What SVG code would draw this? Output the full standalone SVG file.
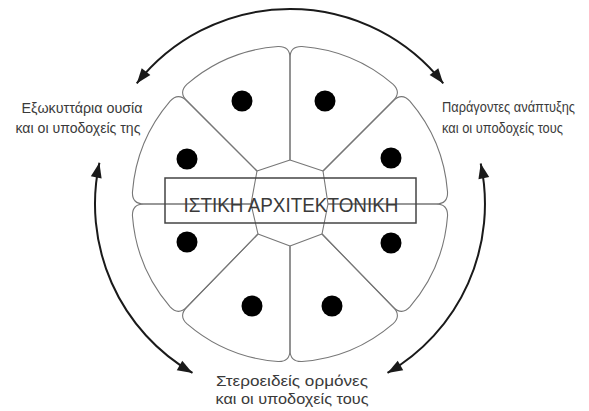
<svg xmlns="http://www.w3.org/2000/svg" width="589" height="411" viewBox="0 0 589 411">
<style>
.cell{fill:none;stroke:#777;stroke-width:1.1;stroke-linejoin:round}
.nuc{fill:#000}
.arc{fill:none;stroke:#1a1a1a;stroke-width:2;marker-start:url(#ah);marker-end:url(#ah)}
.lbl{font-family:"Liberation Sans",Arial,sans-serif;font-size:14px;fill:#3a3a3a}
.big{font-family:"Liberation Sans",Arial,sans-serif;font-size:21px;fill:#3a3a3a}
</style>
<defs>
<marker id="ah" viewBox="-16 -7 17 14" refX="0" refY="0" markerWidth="17" markerHeight="14" markerUnits="userSpaceOnUse" orient="auto-start-reverse">
<path d="M0,0 L-15,-5.5 L-15,5.5 Z" fill="#1a1a1a"/>
</marker>
</defs>
<rect width="589" height="411" fill="#fff"/>
<g id="tissue">
<g id="cell0"><path class="cell" d="M328,204 L436,204 Q448,204 447.54,215.98 A158 158 0 0 1 409.88,306.92 Q401.72,315.72 393.24,307.24 L322,234 Z"/><circle class="nuc" cx="391" cy="243" r="10.5"/></g>
<g id="cell1"><path class="cell" d="M322,234 L393.24,307.24 Q401.72,315.72 392.92,323.88 A158 158 0 0 1 301.98,361.54 Q290,362 290,350 L290,246 Z"/><circle class="nuc" cx="332" cy="306" r="10.5"/></g>
<g id="cell2"><path class="cell" d="M290,246 L290,350 Q290,362 278.02,361.54 A158 158 0 0 1 187.08,323.88 Q178.28,315.72 186.76,307.24 L258,234 Z"/><circle class="nuc" cx="252" cy="306" r="10.5"/></g>
<g id="cell3"><path class="cell" d="M258,234 L186.76,307.24 Q178.28,315.72 170.12,306.92 A158 158 0 0 1 132.46,215.98 Q132,204 144,204 L251,204 Z"/><circle class="nuc" cx="187" cy="242" r="10.5"/></g>
<g id="cell4"><path class="cell" d="M251,204 L144,204 Q132,204 132.46,192.02 A158 158 0 0 1 170.12,101.08 Q178.28,92.28 186.76,100.76 L257,171 Z"/><circle class="nuc" cx="187" cy="159" r="10.5"/></g>
<g id="cell5"><path class="cell" d="M257,171 L186.76,100.76 Q178.28,92.28 187.08,84.12 A158 158 0 0 1 278.02,46.46 Q290,46 290,58 L290,160 Z"/><circle class="nuc" cx="242" cy="101" r="10.5"/></g>
<g id="cell6"><path class="cell" d="M290,160 L290,58 Q290,46 301.98,46.46 A158 158 0 0 1 392.92,84.12 Q401.72,92.28 393.24,100.76 L323,171 Z"/><circle class="nuc" cx="325" cy="101" r="10.5"/></g>
<g id="cell7"><path class="cell" d="M323,171 L393.24,100.76 Q401.72,92.28 409.88,101.08 A158 158 0 0 1 447.54,192.02 Q448,204 436,204 L328,204 Z"/><circle class="nuc" cx="391" cy="158" r="10.5"/></g>
</g>
<g id="title">
<rect x="165" y="178" width="251" height="45" fill="none" stroke="#444" stroke-width="1.5"/>
<text class="big" x="291" y="212" text-anchor="middle" textLength="215" lengthAdjust="spacingAndGlyphs">ΙΣΤΙΚΗ ΑΡΧΙΤΕΚΤΟΝΙΚΗ</text>
</g>
<g id="connectors">
<path class="arc" d="M136.75,83.41 A195 195 0 0 1 443.25,83.41"/>
<path class="arc" d="M99.4,162.8 A195 195 0 0 0 192.5,372.9"/>
<path class="arc" d="M480.7,163.5 A195 195 0 0 1 387.5,372.9"/>
</g>
<g id="label-ecm">
<text class="lbl" x="82" y="113" text-anchor="middle" textLength="121" lengthAdjust="spacingAndGlyphs">Εξωκυττάρια ουσία</text>
<text class="lbl" x="78" y="133" text-anchor="middle" textLength="125" lengthAdjust="spacingAndGlyphs">και οι υποδοχείς της</text>
</g>
<g id="label-growth">
<text class="lbl" x="442" y="112" textLength="133" lengthAdjust="spacingAndGlyphs">Παράγοντες ανάπτυξης</text>
<text class="lbl" x="442" y="133" textLength="121" lengthAdjust="spacingAndGlyphs">και οι υποδοχείς τους</text>
</g>
<g id="label-steroid">
<text class="lbl" x="292" y="386" text-anchor="middle" textLength="152" lengthAdjust="spacingAndGlyphs" style="font-size:15px">Στεροειδείς ορμόνες</text>
<text class="lbl" x="292" y="404" text-anchor="middle" textLength="153" lengthAdjust="spacingAndGlyphs" style="font-size:15px">και οι υποδοχείς τους</text>
</g>
</svg>
